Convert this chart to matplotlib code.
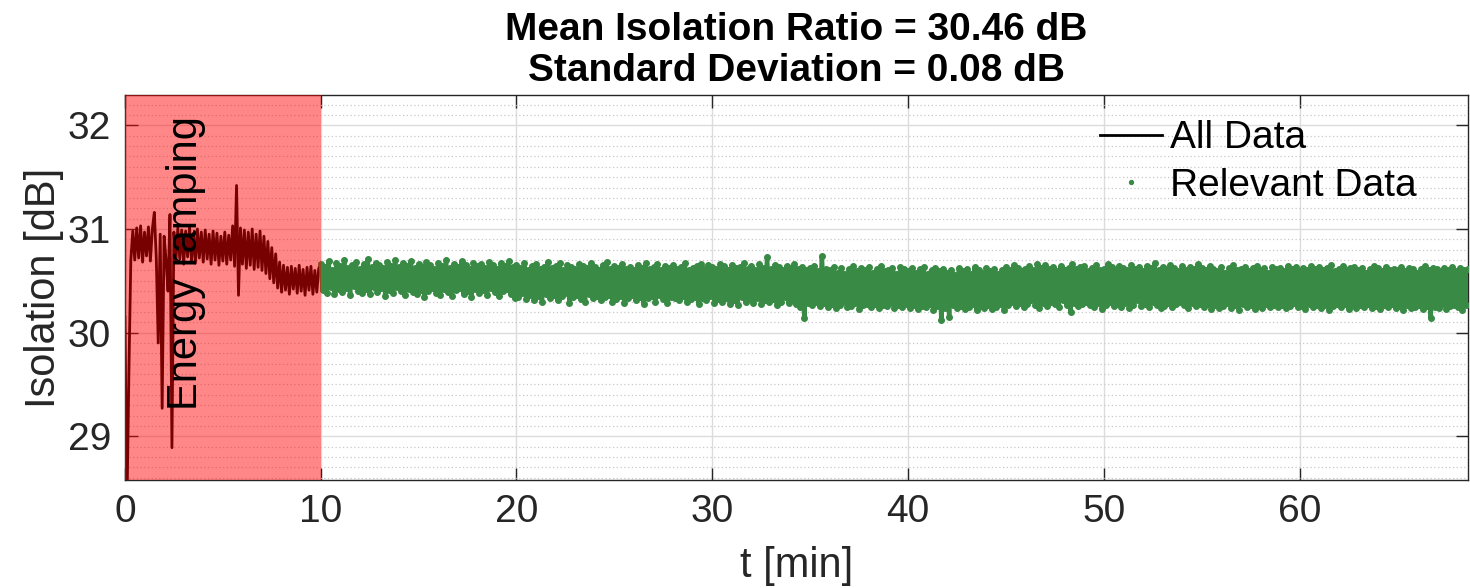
import numpy as np
import matplotlib
matplotlib.use("Agg")
import matplotlib.pyplot as plt

plt.rcParams['font.family'] = ['Liberation Sans', 'DejaVu Sans']

# sample step of the measurement [min]
dt = 0.1

# isolation during the energy ramping (0 .. 9.9 min), in 1/100 dB above 30 dB
ramp_cdB = [15, -170, -40, 70, 98, 70, 101, 72, 103, 68,
            97, 74, 102, 69, 100, 116, 72, -10, 95, -73,
            93, 70, 40, 114, -111, 97, 68, 101, 71, 99,
            66, 98, 73, 102, 69, 96, 67, 100, 72, 97,
            68, 99, 71, 95, 66, 98, 70, 96, 65, 93,
            69, 97, 66, 94, 70, 103, 64, 142, 36, 101,
            66, 99, 62, 97, 65, 100, 61, 95, 63, 98,
            60, 93, 57, 88, 52, 82, 48, 76, 43, 68,
            39, 65, 41, 63, 37, 64, 42, 62, 38, 65,
            40, 61, 36, 63, 41, 64, 37, 60, 39, 62]

# isolation after the ramping (10.0 .. 68.6 min), in 1/100 dB above 30 dB
relevant_cdB = [66, 41, 63, 38, 69, 44, 60, 37, 67, 42,
                64, 39, 70, 43, 62, 36, 65, 45, 68, 40,
                61, 38, 66, 42, 71, 37, 63, 44, 67, 39,
                65, 43, 62, 35, 68, 41, 64, 38, 70, 44,
                63, 40, 67, 36, 64, 42, 69, 39, 62, 37,
                66, 41, 63, 34, 68, 40, 65, 43, 61, 38,
                67, 36, 64, 42, 70, 39, 62, 35, 66, 41,
                63, 43, 69, 37, 65, 40, 61, 34, 67, 42,
                64, 38, 66, 41, 62, 36, 68, 43, 65, 39,
                61, 35, 67, 40, 64, 42, 69, 37, 63, 33,
                65, 34, 62, 38, 67, 32, 60, 36, 64, 31,
                66, 35, 61, 30, 63, 37, 68, 33, 62, 36,
                64, 31, 67, 35, 60, 38, 65, 29, 63, 34,
                61, 36, 66, 32, 64, 30, 62, 37, 67, 33,
                63, 35, 60, 31, 65, 34, 68, 36, 61, 30,
                64, 32, 62, 35, 66, 29, 61, 33, 63, 36,
                60, 31, 65, 34, 62, 28, 67, 33, 61, 35,
                63, 30, 66, 36, 60, 32, 64, 29, 62, 34,
                65, 33, 61, 31, 63, 35, 67, 30, 60, 32,
                62, 34, 64, 28, 66, 33, 61, 31, 65, 35,
                63, 29, 61, 32, 66, 30, 64, 33, 60, 28,
                65, 31, 62, 27, 63, 34, 67, 30, 61, 32,
                64, 29, 60, 33, 66, 28, 62, 31, 73, 30,
                61, 32, 65, 27, 63, 30, 60, 34, 64, 29,
                62, 31, 66, 28, 61, 25, 63, 14, 60, 29,
                62, 27, 64, 30, 59, 26, 74, 29, 61, 25,
                60, 28, 63, 24, 58, 27, 62, 30, 57, 25,
                61, 26, 64, 29, 59, 23, 62, 27, 60, 28,
                63, 25, 58, 28, 61, 24, 64, 27, 59, 26,
                60, 29, 62, 24, 57, 27, 63, 25, 61, 28,
                59, 24, 62, 27, 58, 23, 61, 26, 63, 25,
                57, 28, 60, 22, 62, 26, 59, 12, 61, 24,
                58, 15, 60, 27, 56, 24, 62, 26, 59, 23,
                61, 25, 57, 28, 63, 22, 60, 26, 58, 24,
                62, 27, 59, 23, 61, 25, 57, 28, 60, 22,
                63, 27, 60, 30, 65, 26, 62, 29, 59, 25,
                61, 28, 64, 31, 60, 27, 66, 24, 62, 29,
                65, 26, 61, 30, 63, 28, 59, 25, 64, 31,
                60, 27, 62, 20, 66, 29, 61, 26, 63, 28,
                64, 30, 59, 27, 62, 25, 65, 29, 60, 23,
                61, 27, 66, 30, 63, 26, 60, 28, 64, 25,
                62, 29, 60, 24, 65, 27, 61, 31, 63, 26,
                59, 28, 64, 25, 62, 30, 67, 27, 60, 24,
                63, 26, 61, 29, 65, 25, 62, 28, 59, 30,
                64, 27, 60, 24, 63, 29, 61, 26, 66, 28,
                62, 25, 60, 28, 64, 23, 61, 27, 59, 24,
                63, 26, 58, 29, 62, 24, 65, 27, 60, 22,
                61, 28, 63, 25, 59, 27, 62, 23, 64, 26,
                60, 24, 62, 28, 58, 25, 63, 27, 61, 25,
                62, 27, 59, 24, 64, 26, 61, 29, 63, 25,
                59, 26, 62, 23, 60, 28, 64, 25, 61, 27,
                63, 24, 60, 27, 62, 22, 65, 26, 59, 28,
                61, 25, 64, 28, 60, 23, 62, 27, 63, 24,
                60, 27, 62, 25, 58, 28, 61, 24, 64, 26,
                62, 23, 59, 27, 63, 25, 60, 28, 61, 24,
                60, 26, 63, 22, 59, 27, 62, 24, 61, 25,
                58, 27, 61, 23, 64, 26, 60, 14, 62, 25,
                61, 24, 59, 28, 62, 23, 60, 26, 63, 27,
                59, 25, 62, 22, 60, 27, 61]

ramp_end = 10.0
mean_iso = 30.46
std_iso = 0.08

iso_all = 30 + np.array(ramp_cdB + relevant_cdB) / 100.0
t_all = np.arange(len(iso_all)) * dt
relevant = t_all >= ramp_end - 1e-9

fig, ax = plt.subplots(figsize=(14.7, 5.88), dpi=100)
fig.subplots_adjust(left=0.085, right=0.9986, top=0.838, bottom=0.184)

green = '#388a45'
ax.plot(t_all, iso_all, color='black', lw=2.0, label='All Data', zorder=2)
# dense samples -> connect them so the band looks filled
ax.plot(t_all[relevant], iso_all[relevant], color=green, lw=3.2, zorder=3)
ax.plot(t_all[relevant], iso_all[relevant], ls='none', marker='.', ms=8,
        color=green, label='Relevant Data', zorder=3)

ax.axvspan(0, ramp_end, color='red', alpha=0.47, lw=0, zorder=4)
ax.text(3.1, 29.25, 'Energy ramping', rotation=90, ha='center', va='bottom',
        fontsize=30, color='black', zorder=5)

ax.set_xlim(0, 68.6)
ax.set_ylim(28.58, 32.29)
ax.set_xticks(np.arange(0, 61, 10))
ax.set_yticks([29, 30, 31, 32])
ax.set_yticks(np.arange(28.6, 32.3, 0.1), minor=True)

ax.grid(True, which='major', color='#dcdcdc', lw=1.0, zorder=0)
ax.grid(True, which='minor', axis='y', color='#c8c8c8', lw=0.9, ls=(0, (1, 2)), zorder=0)
ax.grid(False, which='minor', axis='x')
ax.set_axisbelow(True)

ax.tick_params(which='major', direction='in', length=9, width=1, colors='#262626',
               labelsize=28, top=True, right=True, pad=10)
ax.tick_params(which='minor', length=0)
for s in ax.spines.values():
    s.set_color('#262626')
    s.set_linewidth(1.0)

ax.set_xlabel('t [min]', fontsize=30, color='#262626', labelpad=12)
ax.set_ylabel('Isolation [dB]', fontsize=30, color='#262626', labelpad=3)
ax.set_title('Mean Isolation Ratio = %.2f dB\nStandard Deviation = %.2f dB' % (mean_iso, std_iso),
             fontsize=28, fontweight='bold', pad=10)

leg = ax.legend(loc='upper left', bbox_to_anchor=(0.726, 0.935), frameon=False,
                fontsize=28, handlelength=1.6, handletextpad=0.2, labelspacing=0.3,
                borderpad=0, borderaxespad=0, markerscale=0.7)

plt.savefig('out.png', dpi=100)
plt.close('all')
